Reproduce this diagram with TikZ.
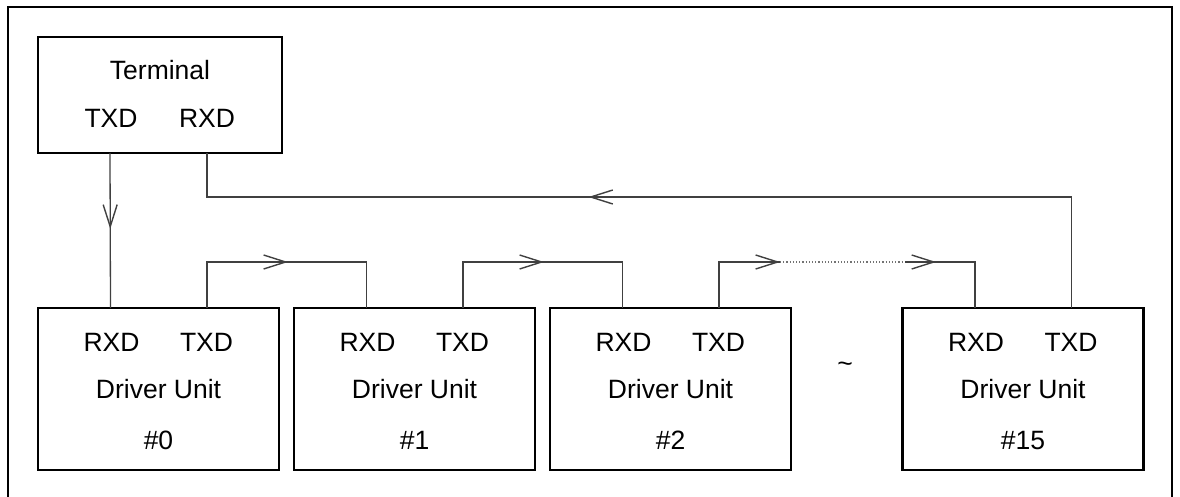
\documentclass[tikz,border=0pt]{standalone}
\usepackage{fontspec}
\setmainfont{Liberation Sans}
\usetikzlibrary{arrows.meta,decorations.markings}
\tikzset{
  unit/.style={draw=black,line width=2.6pt,minimum width=241pt,minimum height=162pt,inner sep=0pt},
  lbl/.style={font=\fontsize{26.5}{31}\selectfont,inner sep=0pt,anchor=base},
  wire/.style={draw=black!75,line width=1.3pt},
  barb/.style={decoration={markings,mark=at position #1 with {\arrow{Straight Barb[length=22pt,width=14pt,line width=1.4pt]}}},postaction={decorate}},
}
\begin{document}
\begin{tikzpicture}[x=1pt,y=-1pt]
\useasboundingbox (0,0) rectangle (1180,497);
% outer frame
\draw[line width=2.4pt] (8,505) -- (8,7) -- (1172,7) -- (1172,505);
% terminal
\node[unit,minimum width=244pt,minimum height=116pt] (term) at (160,95) {};
\node[lbl] (termt) at (160,80) {Terminal};
\node[lbl] (ttxd) at (111,128) {TXD};
\node[lbl] (trxd) at (207,128) {RXD};
\coordinate (tTX) at (110,153);
\coordinate (tRX) at (207,153);
% driver units
\foreach \n/\x/\lab in {d0/158.5/\#0, d1/414.5/\#1, d2/670.5/\#2, d15/1023/\#15}{
  \node[unit] (\n) at (\x,389) {};
  \node[lbl] (\n r) at (\x-47,351) {RXD};
  \node[lbl] (\n t) at (\x+48,351) {TXD};
  \node[lbl] (\n u) at (\x,398) {Driver Unit};
  \node[lbl] (\n h) at (\x,449) {\lab};
  \coordinate (\n RX) at (\x-48,308);
  \coordinate (\n TX) at (\x+48.5,308);
}
\node[lbl] (tilde) at (845,372) {\textasciitilde};
% terminal TXD -> unit 0 RXD
\path[wire,barb=0.49] (tTX) -- (d0RX);
% chain
\draw[wire] (d0TX) |- (d1RX |- 0,262) -- (d1RX);
\path[wire,barb=0.999] (d0TX |- 0,262) -- (288,262);
\draw[wire] (d1TX) |- (d2RX |- 0,262) -- (d2RX);
\path[wire,barb=0.999] (d1TX |- 0,262) -- (544,262);
\coordinate (dotA) at (780,262);
\coordinate (dotB) at (905,262);
\draw[wire] (d2TX) |- (dotA);
\path[wire,barb=0.999] (d2TX |- 0,262) -- (dotA);
\draw[draw=black!55,line width=1.2pt,dotted] (dotA) -- (dotB);
\draw[wire] (dotB) -| (d15RX);
\path[wire,barb=0.999] (dotB) -- (936,262);
% return path
\draw[wire] (d15TX) |- (tRX |- 0,197) -- (tRX);
\path[wire,barb=0.999] (d15TX |- 0,197) -- (588,197);
\end{tikzpicture}
\end{document}
